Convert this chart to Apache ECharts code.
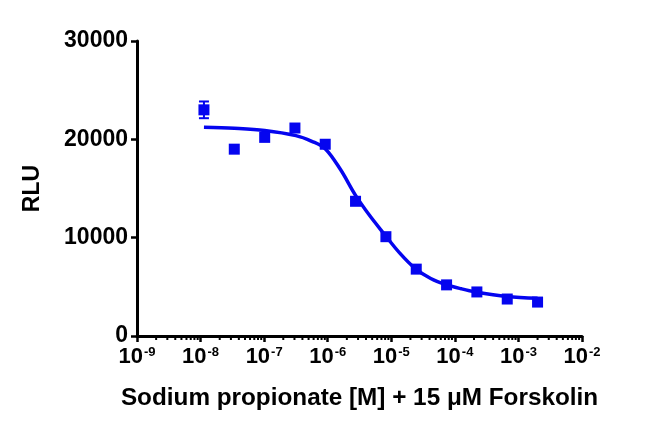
<!DOCTYPE html>
<html>
<head>
<meta charset="utf-8">
<script src="https://cdn.jsdelivr.net/npm/echarts@6/dist/echarts.min.js"></script>
<style>
html,body{margin:0;padding:0;background:#fff;}
#chart{width:650px;height:432px;}
</style>
</head>
<body>
<div id="chart"></div>
<script>
// Measured points: concentration [M] and RLU
var concentrations = [1.13e-8, 3.39e-8, 1.02e-7, 3.05e-7, 9.14e-7, 2.74e-6, 8.23e-6, 2.47e-5, 7.41e-5, 2.22e-4, 6.67e-4, 2.0e-3];
var rluValues = [23000, 19000, 20200, 21150, 19500, 13700, 10100, 6800, 5200, 4480, 3760, 3450];
// Error bar (first point only visible)
var errorBars = [[1.13e-8, 22150, 23850]];
// Fitted curve
var curveConc = [1.13e-8, 3.39e-8, 1.02e-7, 3.16e-7, 5.62e-7, 9.12e-7, 1.58e-6, 2.74e-6, 4.57e-6, 7.57e-6, 1.35e-5, 2.39e-5, 4.17e-5, 7.08e-5, 1.26e-4, 2.1e-4, 6.64e-4, 2.0e-3];
var curveRlu = [21230, 21120, 20900, 20380, 19800, 19050, 16950, 14300, 12250, 10450, 8450, 6850, 5850, 5250, 4800, 4480, 4020, 3830];
// Axis ticks
var xMajorTicks = [1e-9, 1e-8, 1e-7, 1e-6, 1e-5, 1e-4, 1e-3, 1e-2];
var xMinorMultipliers = [2, 3, 4, 5, 6, 7, 8, 9];
var yTicks = [0, 10000, 20000, 30000];

var BLUE = '#0505ef';
var FONT = 'Arial, "Liberation Sans", Helvetica, sans-serif';

var minorTicks = [];
for (var i = 0; i < xMajorTicks.length - 1; i++) {
  for (var j = 0; j < xMinorMultipliers.length; j++) {
    minorTicks.push([xMajorTicks[i] * xMinorMultipliers[j], 0]);
  }
}
var points = concentrations.map(function (c, k) { return [c, rluValues[k]]; });
var curve = curveConc.map(function (c, k) { return [c, curveRlu[k]]; });

var chart = echarts.init(document.getElementById('chart'), null, {renderer: 'canvas'});
chart.setOption({
  animation: false,
  backgroundColor: '#fff',
  grid: {left: 137, right: 68, top: 41, bottom: 96},
  xAxis: {
    type: 'log',
    logBase: 10,
    min: xMajorTicks[0],
    max: xMajorTicks[xMajorTicks.length - 1],
    splitLine: {show: false},
    axisLine: {show: true, onZero: false, lineStyle: {color: '#000', width: 3}},
    axisTick: {show: true, inside: false, length: 6, lineStyle: {color: '#000', width: 2.5}},
    axisLabel: {
      margin: 10,
      color: '#000',
      fontFamily: FONT,
      fontWeight: 'bold',
      fontSize: 22,
      formatter: function (v) {
        var e = Math.round(Math.log(v) / Math.LN10);
        return '10{s|' + e + '}';
      },
      rich: {
        s: {fontSize: 13, fontWeight: 'bold', fontFamily: FONT, color: '#000', verticalAlign: 'top', padding: [0, 0, 9, 1]}
      }
    },
    name: 'Sodium propionate [M] + 15 μM Forskolin',
    nameLocation: 'middle',
    nameGap: 50,
    nameTextStyle: {color: '#000', fontFamily: FONT, fontWeight: 'bold', fontSize: 24.3}
  },
  yAxis: {
    type: 'value',
    min: yTicks[0],
    max: yTicks[yTicks.length - 1],
    interval: yTicks[1] - yTicks[0],
    splitLine: {show: false},
    axisLine: {show: true, lineStyle: {color: '#000', width: 3}},
    axisTick: {show: true, length: 6, lineStyle: {color: '#000', width: 2.5}},
    axisLabel: {
      margin: 9, color: '#000', fontFamily: FONT, fontWeight: 'bold', fontSize: 23,
      formatter: function (v) { return String(v); }
    },
    name: 'RLU',
    nameLocation: 'middle',
    nameRotate: 90,
    nameGap: 93,
    nameTextStyle: {color: '#000', fontFamily: FONT, fontWeight: 'bold', fontSize: 23}
  },
  series: [
    {
      type: 'custom',
      name: 'minorTicks',
      silent: true,
      clip: false,
      z: 1,
      data: minorTicks,
      renderItem: function (params, api) {
        var p = api.coord([api.value(0), 0]);
        return {type: 'line', shape: {x1: p[0], y1: p[1] + 1, x2: p[0], y2: p[1] + 4},
          style: {stroke: '#000', lineWidth: 2}};
      }
    },
    {
      type: 'line',
      name: 'fit',
      data: curve,
      smooth: 0.35,
      showSymbol: false,
      symbol: 'none',
      lineStyle: {color: BLUE, width: 3.5},
      z: 2
    },
    {
      type: 'custom',
      name: 'error',
      silent: true,
      z: 3,
      data: errorBars,
      renderItem: function (params, api) {
        var lo = api.coord([api.value(0), api.value(1)]);
        var hi = api.coord([api.value(0), api.value(2)]);
        var w = 5;
        var st = {stroke: BLUE, lineWidth: 2};
        return {type: 'group', children: [
          {type: 'line', shape: {x1: lo[0], y1: lo[1], x2: hi[0], y2: hi[1]}, style: st},
          {type: 'line', shape: {x1: lo[0] - w, y1: lo[1], x2: lo[0] + w, y2: lo[1]}, style: st},
          {type: 'line', shape: {x1: hi[0] - w, y1: hi[1], x2: hi[0] + w, y2: hi[1]}, style: st}
        ]};
      }
    },
    {
      type: 'scatter',
      name: 'data',
      data: points,
      symbol: 'rect',
      symbolSize: 11,
      itemStyle: {color: BLUE, opacity: 1},
      z: 4
    }
  ]
});
</script>
</body>
</html>
